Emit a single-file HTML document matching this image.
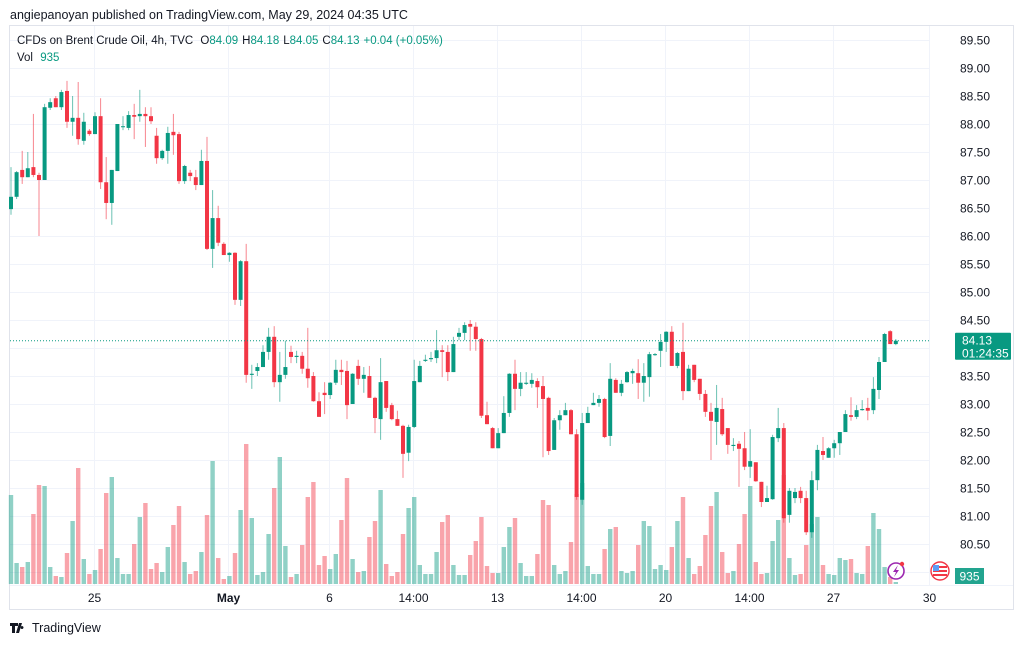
<!DOCTYPE html>
<html><head><meta charset="utf-8">
<style>
html,body{margin:0;padding:0;background:#fff;}
body{width:1024px;height:643px;overflow:hidden;position:relative;font-family:"Liberation Sans","DejaVu Sans",sans-serif;}
svg text{font-family:"Liberation Sans","DejaVu Sans",sans-serif;}
</style></head>
<body>
<svg id="chart" width="1024" height="643" xmlns="http://www.w3.org/2000/svg">
  <text x="10" y="19" font-size="12.5" fill="#131722">angiepanoyan published on TradingView.com, May 29, 2024 04:35 UTC</text>
  <rect x="9.5" y="25.5" width="1004" height="584" fill="none" stroke="#e0e3eb"/>
  <g id="grid"></g>
  <g id="vol"></g>
  <g id="candles"></g>
  <g id="axes"></g>
  <text x="17" y="44" font-size="11.5" fill="#131722">CFDs on Brent Crude Oil, 4h, TVC <tspan dx="4">O</tspan><tspan fill="#089981">84.09</tspan><tspan dx="4">H</tspan><tspan fill="#089981">84.18</tspan><tspan dx="4">L</tspan><tspan fill="#089981">84.05</tspan><tspan dx="4">C</tspan><tspan fill="#089981">84.13</tspan><tspan dx="4" fill="#089981">+0.04 (+0.05%)</tspan></text>
  <text x="17" y="61" font-size="11.5" fill="#131722">Vol <tspan dx="4" fill="#089981">935</tspan></text>
  <g>
    <path d="M10 623h8v3h-3v7h-3v-7h-2z M19 623h3l-3 10h-3z M22 626a1.5 1.5 0 1 0 0.01 0z" fill="#131722"/>
    <text x="32" y="632" font-size="12.5" fill="#131722">TradingView</text>
  </g>
  <g>
    <circle cx="896" cy="571" r="8" fill="#fff" stroke="#9c27b0" stroke-width="1.6"/>
    <path d="M898 565l-5 7h3l-2 5 5-7h-3z" fill="#9c27b0"/>
    <circle cx="902" cy="564" r="2.2" fill="#f23645"/>
  </g>
  <g>
    <circle cx="940" cy="571" r="9" fill="#fff" stroke="#f23645" stroke-width="1.4"/>
    <rect x="933" y="566" width="14" height="2" fill="#f23645"/>
    <rect x="933" y="570" width="14" height="2" fill="#f23645"/>
    <rect x="933" y="574" width="14" height="2" fill="#f23645"/>
    <rect x="933" y="565" width="6" height="6" fill="#5b9cf5"/>
  </g>
</svg>
<script>
const opens=[86.48,86.70,87.18,87.05,87.23,87.09,87.00,88.29,88.46,88.30,88.59,88.04,88.11,87.70,87.88,87.82,88.14,86.96,86.59,87.16,87.95,87.93,88.16,88.14,88.18,88.14,87.79,87.39,87.52,87.86,87.82,86.98,87.13,87.05,86.91,87.34,85.77,86.32,85.86,85.66,85.70,84.86,85.55,83.52,83.59,83.66,83.93,84.20,83.39,83.52,83.93,83.84,83.86,83.63,83.50,83.05,83.20,83.16,83.38,83.61,83.59,83.00,83.68,83.45,83.50,83.11,82.73,83.41,82.98,82.73,82.61,82.13,82.59,83.39,83.77,83.80,83.82,83.96,83.93,83.57,84.20,84.27,84.43,84.38,84.16,82.80,82.57,82.21,82.48,82.84,83.54,83.27,83.36,83.36,83.41,83.32,83.11,82.18,82.71,82.80,82.89,82.46,81.29,82.66,82.98,83.02,83.09,82.43,83.43,83.20,83.39,83.55,83.55,83.38,83.48,83.88,83.95,84.11,84.29,83.68,83.93,83.23,83.70,83.45,83.18,82.86,82.68,82.91,82.57,82.25,82.29,82.21,81.88,81.96,81.61,81.25,81.30,82.39,82.57,81.02,81.32,81.45,81.32,80.71,81.64,82.16,82.04,82.21,82.30,82.50,82.80,82.77,82.89,82.93,82.89,83.25,83.75,84.30,84.07];
const closes=[86.70,87.14,87.05,87.21,87.09,87.00,88.30,88.39,88.30,88.57,88.04,88.11,87.73,88.04,87.82,88.14,86.96,86.59,87.18,88.00,87.96,88.16,88.13,88.18,88.14,88.05,87.39,87.52,87.84,87.80,86.98,87.25,87.07,86.91,87.34,85.77,86.32,85.88,85.66,85.70,84.86,85.55,83.52,83.54,83.66,83.93,84.20,83.39,83.52,83.66,83.84,83.86,83.63,83.46,83.05,82.77,83.16,83.38,83.61,83.57,82.98,83.54,83.45,83.52,83.11,82.75,83.39,82.93,82.73,82.61,82.11,82.59,83.41,83.68,83.79,83.82,83.96,83.93,83.57,84.07,84.27,84.41,84.38,84.16,82.79,82.64,82.21,82.48,82.84,83.54,83.27,83.38,83.38,83.43,83.30,83.09,82.16,82.71,82.80,82.89,82.46,81.34,82.66,82.84,83.02,83.09,82.41,83.45,83.20,83.36,83.57,83.59,83.38,83.50,83.89,83.89,84.11,84.29,83.68,83.91,83.23,83.63,83.43,83.18,82.86,82.70,82.93,82.46,82.27,82.27,82.20,81.88,81.98,81.62,81.25,81.32,82.41,82.57,80.96,81.45,81.43,81.32,80.71,81.64,82.18,82.09,82.21,82.30,82.50,82.82,82.77,82.89,82.91,82.88,83.27,83.75,84.25,84.07,84.13];
const highs=[87.23,87.16,87.52,87.50,88.18,87.13,88.36,88.46,88.50,88.61,88.77,88.50,88.75,88.20,87.91,88.21,88.46,87.41,87.18,88.00,88.14,88.23,88.36,88.61,88.30,88.30,87.93,87.54,87.95,88.18,87.86,87.27,87.18,87.18,87.54,87.77,86.82,86.54,85.89,85.71,85.71,85.57,85.86,83.70,83.73,84.05,84.36,84.39,83.93,84.13,84.04,83.95,83.93,84.36,83.57,83.21,83.39,83.39,83.79,83.79,83.77,83.55,83.79,83.66,83.68,83.13,83.82,83.41,83.02,82.88,82.63,82.63,83.79,83.77,83.88,83.93,84.32,84.05,84.05,84.20,84.36,84.46,84.50,84.46,84.18,83.04,82.59,82.57,83.14,83.55,83.79,83.57,83.57,83.55,83.46,83.50,83.13,82.75,82.89,83.02,82.91,82.55,82.84,82.95,83.20,83.16,83.11,83.73,83.46,83.43,83.59,83.63,83.80,83.73,83.93,83.91,84.25,84.30,84.39,83.93,84.45,83.70,83.70,83.45,83.25,83.02,83.34,83.11,82.57,82.39,82.34,82.50,82.55,81.96,81.61,81.54,82.45,82.93,82.66,81.50,81.50,81.52,81.45,81.80,82.27,82.41,82.23,82.36,82.50,82.89,83.12,82.98,83.07,83.11,83.48,83.84,84.27,84.32,84.16];
const lows=[86.38,86.66,86.93,87.05,87.05,86.00,87.00,88.25,88.30,88.25,87.93,87.79,87.63,87.63,87.79,87.82,86.84,86.30,86.20,87.16,87.89,87.89,87.73,88.04,87.59,88.00,87.29,87.36,87.29,87.45,86.93,86.93,86.98,86.82,86.91,85.75,85.43,85.82,85.66,85.54,84.77,84.75,83.38,83.27,83.50,83.66,83.79,83.30,83.04,83.45,83.73,83.73,83.54,83.29,83.04,82.77,82.82,83.09,83.34,83.34,82.73,83.00,83.34,83.20,83.11,82.48,82.36,82.86,82.71,82.61,81.68,81.98,82.57,83.39,83.75,83.75,83.73,83.48,83.41,83.57,84.14,84.14,83.95,83.95,82.75,82.64,82.21,82.21,82.48,82.77,82.89,83.14,83.34,83.29,82.93,82.05,82.09,82.18,82.54,82.80,82.46,81.29,81.20,82.66,82.98,82.95,82.39,82.25,83.20,83.14,83.38,83.36,83.09,83.04,83.13,83.86,83.66,83.93,83.68,83.64,83.07,83.23,83.39,83.07,82.77,82.00,82.27,82.43,82.11,82.16,81.52,81.82,81.68,81.61,81.16,81.25,81.29,82.32,80.88,80.88,81.23,81.23,80.66,80.61,81.46,82.00,82.04,82.04,82.09,82.50,82.70,82.73,82.88,82.71,82.82,83.09,83.75,84.07,84.05];
const volumes=[89,21,17,22,70,99,98,17,8,7,31,63,116,25,10,14,35,91,107,26,10,10,40,67,81,15,21,12,37,59,78,22,10,13,32,69,123,26,5,8,31,74,140,66,9,12,50,96,127,38,7,10,39,87,102,19,28,15,30,64,106,25,12,13,47,63,94,20,8,12,50,76,87,19,10,10,32,62,69,19,9,9,29,43,67,18,11,11,37,57,66,21,8,8,30,84,79,19,10,13,42,90,101,18,10,10,35,55,57,13,11,13,39,63,58,15,19,14,37,63,87,26,10,18,49,78,92,32,11,13,40,70,98,22,10,11,43,64,109,26,9,10,39,60,67,19,10,9,26,24,25,11,10,38,71,55,17,7,2];
const priceTicks=[89.5,89,88.5,88,87.5,87,86.5,86,85.5,85,84.5,84,83.5,83,82.5,82,81.5,81,80.5,80];
const timeTickLabels=["25","May","6","14:00","13","14:00","20","14:00","27","30"];
const timeTickIndex=[14.8,38.8,56.8,71.8,86.8,101.8,116.8,131.8,146.8,164];
const lastPrice=84.13;

const NS="http://www.w3.org/2000/svg";
const PLOT_L=10,PLOT_R=929;
function yP(p){return 40+(89.5-p)*56;}
function xI(i){return 11+5.6*i;}
function yV(v){return 584-v;}
function mk(tag,attrs,parent){const e=document.createElementNS(NS,tag);for(const k in attrs)e.setAttribute(k,attrs[k]);parent.appendChild(e);return e;}
const grid=document.getElementById('grid'),volG=document.getElementById('vol'),cG=document.getElementById('candles'),ax=document.getElementById('axes');

priceTicks.forEach(p=>{
  const y=Math.round(yP(p))+0.5;
  const l=mk('line',{x1:PLOT_L,x2:PLOT_R,y1:y,y2:y,stroke:'#f0f3fa'},grid);
  
  
  if(p>80){
    const t=mk('text',{x:990,y:y+4,'font-size':12,'text-anchor':'end',fill:'#131722'},ax);
    t.textContent=p.toFixed(2);
    
    
  }
});
timeTickLabels.forEach((lab,k)=>{
  const x=Math.round(xI(timeTickIndex[k]))+0.5;
  const l=mk('line',{x1:x,x2:x,y1:26,y2:585,stroke:'#f0f3fa'},grid);
  
  
  const t=mk('text',{x:x,y:602,'font-size':12,'text-anchor':'middle',fill:'#131722','font-weight':lab==='May'?'bold':'normal'},ax);
  t.textContent=lab;
  
  
});
const xb=mk('line',{x1:10,x2:1013,y1:585.5,y2:585.5,stroke:'#f0f3fa'},ax);



volumes.forEach((v,i)=>{
  const up=closes[i]>=opens[i];
  const r=mk('rect',{x:xI(i)-2.2,y:yV(v),width:4.4,height:v,fill:up?'rgba(8,153,129,0.45)':'rgba(242,54,69,0.45)'},volG);
  
  
});
opens.forEach((o,i)=>{
  const c=closes[i],up=c>=o,col=up?'#089981':'#f23645';
  const g=mk('g',{},cG);
  
  
  const x=xI(i);
  mk('line',{x1:x,x2:x,y1:yP(highs[i]),y2:yP(lows[i]),stroke:col,'stroke-width':1,'stroke-opacity':0.6},g);
  const y1=yP(Math.max(o,c)),y2=yP(Math.min(o,c));
  mk('rect',{x:x-2,y:y1,width:4,height:Math.max(1,y2-y1),fill:col},g);
});
const ly=yP(lastPrice);
const dl=mk('line',{x1:PLOT_L,x2:PLOT_R,y1:ly,y2:ly,stroke:'#089981','stroke-dasharray':'1 2'},ax);


const lb=mk('rect',{x:955,y:ly-8,width:56,height:27,fill:'#089981',rx:1},ax);


const lt=mk('text',{x:962,y:ly+4,'font-size':12,fill:'#fff'},ax);
lt.textContent=lastPrice.toFixed(2);


const ct=mk('text',{x:962,y:ly+17,'font-size':12,fill:'#fff'},ax);
ct.textContent='01:24:35';


const vb=mk('rect',{x:955,y:568,width:29,height:16,fill:'#22a48f'},ax);


const vt=mk('text',{x:969.5,y:580.5,'font-size':12,'text-anchor':'middle',fill:'#fff'},ax);
vt.textContent='935';


</script>
</body></html>
